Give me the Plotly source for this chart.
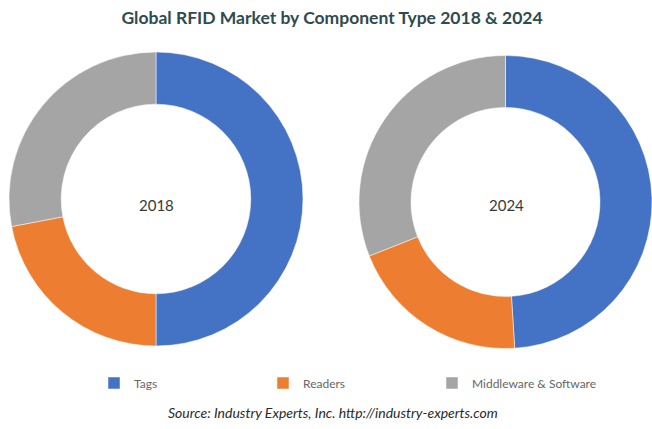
import plotly.graph_objects as go

categories = ["Tags", "Readers", "Middleware & Software"]
values_2018 = [50, 22, 28]
values_2024 = [49, 20, 31]
years = ["2018", "2024"]
colors = ["#4472C4", "#ED7D31", "#A5A5A5"]

W, H = 652, 429

fig = go.Figure()
fig.add_trace(go.Pie(
    labels=categories, values=values_2018, hole=0.645, sort=False,
    direction="clockwise", rotation=0, textinfo="none", hoverinfo="label+percent",
    marker=dict(colors=colors, line=dict(color="white", width=0.5)),
    domain=dict(x=[9 / W, 303 / W], y=[1 - 346 / H, 1 - 52 / H]), name=years[0],
))
fig.add_trace(go.Pie(
    labels=categories, values=values_2024, hole=0.645, sort=False,
    direction="clockwise", rotation=0, textinfo="none", hoverinfo="label+percent",
    marker=dict(colors=colors, line=dict(color="white", width=0.5)),
    domain=dict(x=[359 / W, 1.0], y=[1 - 348.5 / H, 1 - 55.5 / H]), name=years[1],
    showlegend=False,
))

fig.add_annotation(text=years[0], x=156 / W, y=1 - 205 / H, xref="paper", yref="paper",
                   xanchor="center", yanchor="middle",
                   showarrow=False, font=dict(family="Lato", size=15, color="#383838"))
fig.add_annotation(text=years[1], x=506 / W, y=1 - 205 / H, xref="paper", yref="paper",
                   xanchor="center", yanchor="middle",
                   showarrow=False, font=dict(family="Lato", size=15, color="#383838"))
fig.add_annotation(text="<i>Source: Industry Experts, Inc. http://industry-experts.com</i>",
                   x=333 / W, y=1 - 412 / H, xref="paper", yref="paper", showarrow=False,
                   xanchor="center", yanchor="middle",
                   font=dict(family="Lato", size=14, color="#2a2a2a"))

fig.update_layout(
    width=W, height=H,
    margin=dict(l=0, r=0, t=0, b=0),
    paper_bgcolor="white", plot_bgcolor="white",
    title=dict(text="<b>Global RFID Market by Component Type 2018 & 2024</b>",
               x=332 / W, xanchor="center", y=1 - 18 / H, yanchor="middle",
               font=dict(family="Lato", size=17.5, color="#2E4B4F")),
    legend=dict(orientation="h", x=94 / W, y=1 - 383 / H, xanchor="left", yanchor="middle",
                font=dict(family="Lato", size=12, color="#666666"),
                entrywidth=124, itemwidth=30, traceorder="normal"),
)

fig.write_html("out.html")
